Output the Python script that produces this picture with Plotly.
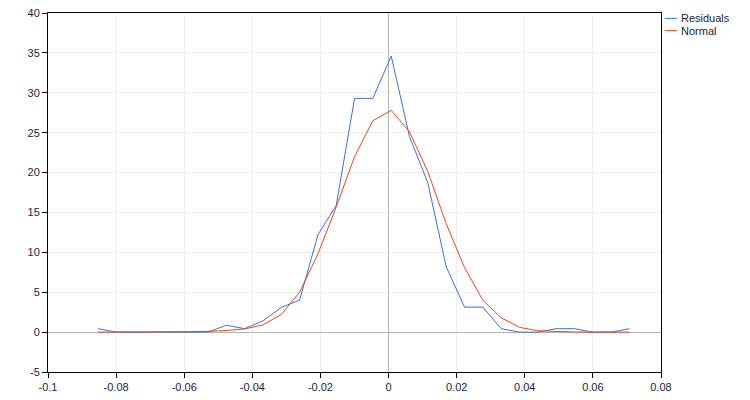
import numpy as np
import plotly.graph_objs as go

# bin centres (shared by both series)
x_start = -0.0853
x_step = 0.00538
n_bins = 30
x_vals = [round(x_start + i * x_step, 5) for i in range(n_bins)]

# density of residuals
residuals = [0.43, 0, 0, 0, 0, 0, 0, 0.86, 0.43, 1.4, 3.1, 4.0, 12.2, 15.9, 29.3,
             29.3, 34.6, 24.5, 18.7, 8.2, 3.13, 3.13, 0.43, 0, 0, 0.43, 0.43, 0, 0, 0.43]

# fitted normal curve
normal = [0, 0, 0, 0, 0, 0.05, 0.1, 0.2, 0.4, 0.9, 2.2, 5.0, 9.8, 15.7, 22.0,
          26.5, 27.8, 25.1, 20.1, 13.6, 8.1, 4.0, 1.8, 0.6, 0.17, 0.05, 0.01, 0, 0, 0]

x_ticks = [-0.1, -0.08, -0.06, -0.04, -0.02, 0, 0.02, 0.04, 0.06, 0.08]
x_tick_text = ['-0.1', '-0.08', '-0.06', '-0.04', '-0.02', '0', '0.02', '0.04', '0.06', '0.08']
y_ticks = [-5, 0, 5, 10, 15, 20, 25, 30, 35, 40]
y_tick_text = ['-5', '0', '5', '10', '15', '20', '25', '30', '35', '40']

series_names = ['Residuals', 'Normal']
series_colours = ['#3c6fd6', '#e2461e']

fig = go.Figure()

fig.add_trace(
    go.Scatter(
        x = x_vals, y = residuals, name = series_names[0], mode = 'lines',
        line = dict(color = series_colours[0], width = 1)
    )
)
fig.add_trace(
    go.Scatter(
        x = x_vals, y = normal, name = series_names[1], mode = 'lines',
        line = dict(color = series_colours[1], width = 1)
    )
)

axis_style = dict(
    showline = True, linecolor = 'black', linewidth = 1, mirror = True,
    ticks = 'outside', ticklen = 5, tickcolor = 'black',
    showgrid = True, gridcolor = '#eeeeee', gridwidth = 1,
    zeroline = True, zerolinecolor = '#b4b4b4', zerolinewidth = 1,
    automargin = False,
    tickfont = dict(family = 'Liberation Sans, Arial, sans-serif', size = 11, color = '#1c1c3a'),
)

fig.update_xaxes(range = [-0.1, 0.08], tickvals = x_ticks, ticktext = x_tick_text, **axis_style)
fig.update_yaxes(range = [-5, 40], tickvals = y_ticks, ticktext = y_tick_text, **axis_style)

# small custom legend in the right margin
for i, (name, colour) in enumerate(zip(series_names, series_colours)):
    y_pos = 0.985 - i * 0.034
    fig.add_shape(type = 'line', xref = 'paper', yref = 'paper',
                  x0 = 1.006, x1 = 1.026, y0 = y_pos, y1 = y_pos,
                  line = dict(color = colour, width = 1))
    fig.add_annotation(xref = 'paper', yref = 'paper', x = 1.03, y = y_pos,
                       text = name, showarrow = False, xanchor = 'left', yanchor = 'middle',
                       font = dict(family = 'Liberation Sans, Arial, sans-serif', size = 11, color = '#1c1c3a'))

fig.update_layout(
    width = 750,
    height = 400,
    template = 'plotly_white',
    plot_bgcolor = 'white',
    paper_bgcolor = 'white',
    margin = dict(l = 48, r = 89, t = 13, b = 28),
    showlegend = False
)

# page body has a default 8px margin; drop it so the figure sits at the origin
fig.write_html("out.html", config = {'displayModeBar': False},
               post_script = "document.body.style.margin = '0';")
